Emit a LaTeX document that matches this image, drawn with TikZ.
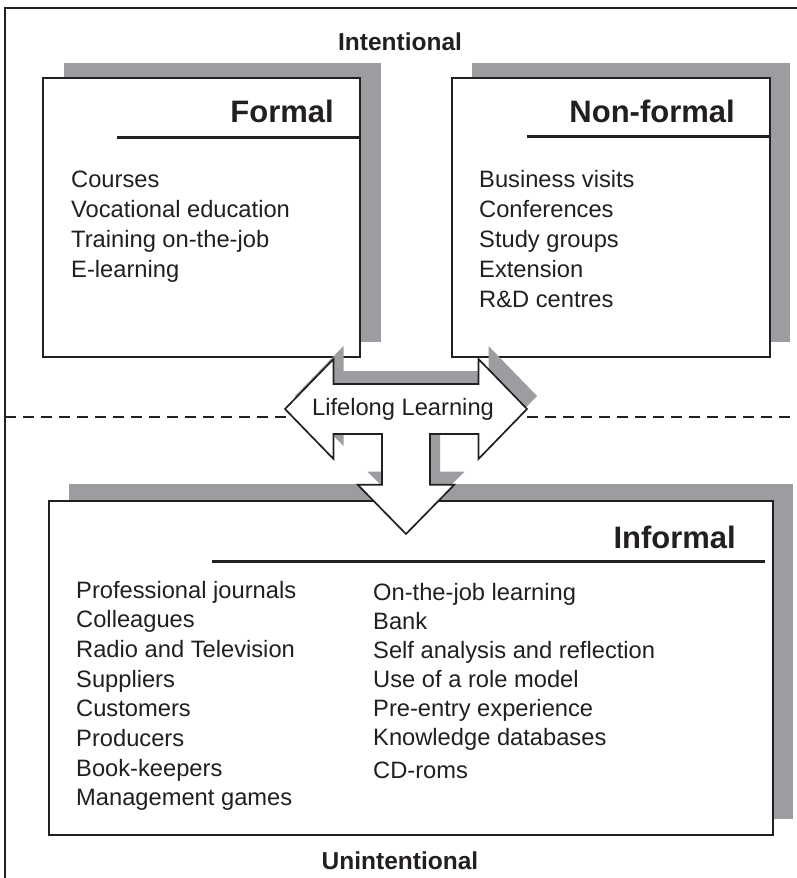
\documentclass[tikz,border=0pt]{standalone}
\usepackage{fontspec}
\setmainfont{Liberation Sans}
\definecolor{ink}{RGB}{35,31,32}
\definecolor{shade}{RGB}{156,157,161}
\tikzset{
  item/.style={anchor=base west, inner sep=0pt, text=ink, font=\fontsize{23.7}{28}\selectfont},
  heading/.style={anchor=base east, inner sep=0pt, text=ink, font=\fontsize{31}{36}\selectfont\bfseries},
  side/.style={inner sep=0pt, text=ink, font=\fontsize{24.5}{28}\selectfont\bfseries},
  box/.style={draw=ink, fill=white, line width=2pt},
  boxshadow/.style={fill=shade},
  rule/.style={draw=ink, line width=3pt},
  arrowbody/.style={draw=ink, fill=white, line width=1.7pt},
  arrowshadow/.style={fill=shade},
}
\begin{document}
\begin{tikzpicture}[x=1pt,y=-1pt]
\useasboundingbox (0,0) rectangle (797,878);
% frame
\draw[ink, line width=1.5pt] (5,878) -- (5,8) -- (797,8);
\node[side] (intent) at (400,42) {Intentional};
\node[side] (unintent) at (400,861) {Unintentional};
% shadows, then boxes
\fill[boxshadow] (64,63) rectangle (381,342);
\fill[boxshadow] (472,63) rectangle (790,342);
\fill[boxshadow] (69,484) rectangle (793,819);
\path[box] (43,78) rectangle (360,357);
\path[box] (452,78) rectangle (770,357);
\path[box] (49,501) rectangle (773,835);
% headings
\node[heading] (formal) at (334,122) {Formal};
\draw[rule] (117,137) -- (360,137);
\node[heading] (nonformal) at (735,122) {Non-formal};
\draw[rule] (527,136) -- (770,136);
\node[heading] (informal) at (736,548) {Informal};
\draw[rule] (212,561) -- (765,561);
% lists
\foreach \txt [count=\i from 0] in {Courses, Vocational education, Training on-the-job, E-learning}
  \node[item] (f\i) at (71,187+30*\i) {\txt};
\foreach \txt [count=\i from 0] in {Business visits, Conferences, Study groups, Extension, R\&D centres}
  \node[item] (n\i) at (479,187+30*\i) {\txt};
\foreach \txt [count=\i from 0] in {Professional journals, Colleagues, Radio and Television, Suppliers, Customers, Producers, Book-keepers, Management games}
  \node[item] (il\i) at (76,598+29.7*\i) {\txt};
\foreach \txt [count=\i from 0] in {On-the-job learning, Bank, Self analysis and reflection, Use of a role model, Pre-entry experience, Knowledge databases}
  \node[item] (ir\i) at (373,600+29*\i) {\txt};
\node[item] (ir6) at (373,778) {CD-roms};
% divider
\draw[ink, line width=1.3pt, dash pattern=on 11pt off 7pt] (5,417) -- (797,417);
% three-way arrow
\foreach \dx/\dy/\sty in {416/396/arrowshadow, 406/409/arrowbody}
  \path[\sty, shift={(\dx,\dy)}] (-121,0) -- (-72.5,-50) -- (-72.5,-25) -- (72.5,-25)
    -- (72.5,-50) -- (121,0) -- (72.5,50) -- (72.5,25) -- (24,25) -- (24,75.7)
    -- (48.3,75.7) -- (0,125) -- (-48.3,75.7) -- (-24,75.7) -- (-24,25)
    -- (-72.5,25) -- (-72.5,50) -- cycle;
\node[item, anchor=center] (lifelong) at (403,409) {Lifelong Learning};
\end{tikzpicture}
\end{document}
